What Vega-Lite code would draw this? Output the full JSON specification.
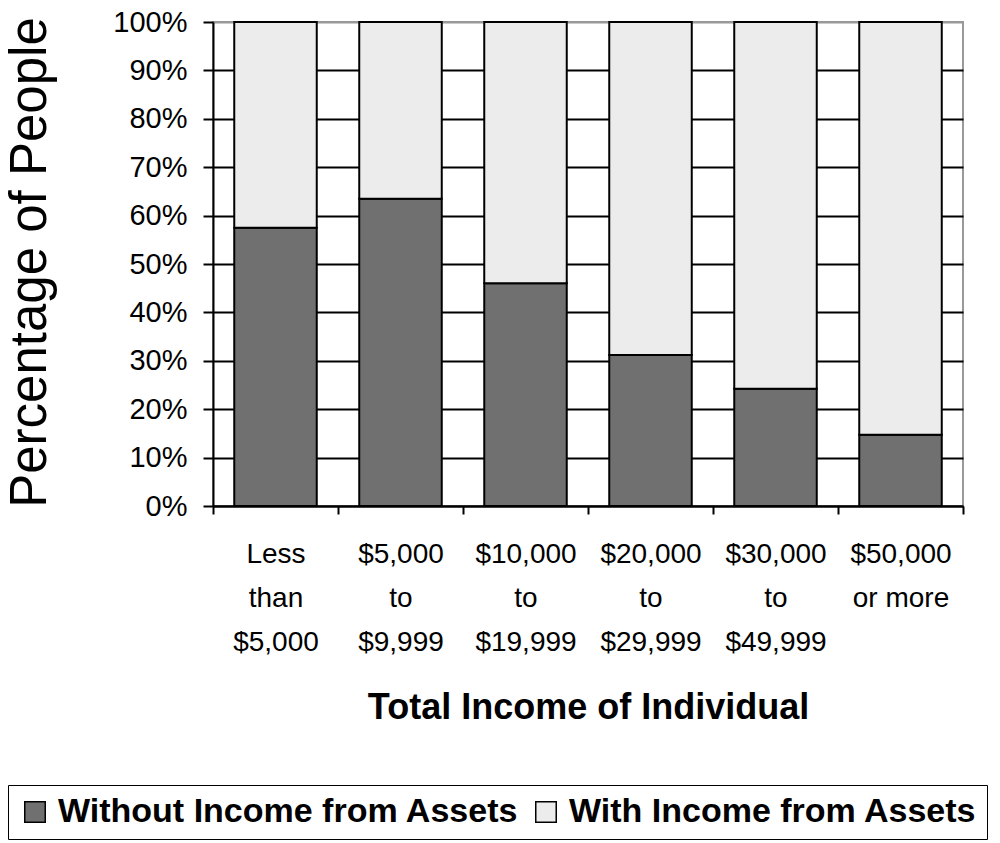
{
  "$schema": "https://vega.github.io/schema/vega-lite/v6.json",
  "width": 750,
  "height": 484,
  "autosize": {"type": "none"},
  "padding": {"left": 213, "top": 22, "right": 37, "bottom": 337},
  "background": "white",
  "config": {"font": "Liberation Sans", "view": {"stroke": "#999", "strokeWidth": 2}},
  "data": {
    "values": [
      {"income": "Less than $5,000", "series": "Without Income from Assets", "share": 0.575},
      {"income": "Less than $5,000", "series": "With Income from Assets", "share": 0.425},
      {"income": "$5,000 to $9,999", "series": "Without Income from Assets", "share": 0.635},
      {"income": "$5,000 to $9,999", "series": "With Income from Assets", "share": 0.365},
      {"income": "$10,000 to $19,999", "series": "Without Income from Assets", "share": 0.46},
      {"income": "$10,000 to $19,999", "series": "With Income from Assets", "share": 0.54},
      {"income": "$20,000 to $29,999", "series": "Without Income from Assets", "share": 0.312},
      {"income": "$20,000 to $29,999", "series": "With Income from Assets", "share": 0.688},
      {"income": "$30,000 to $49,999", "series": "Without Income from Assets", "share": 0.242},
      {"income": "$30,000 to $49,999", "series": "With Income from Assets", "share": 0.758},
      {"income": "$50,000 or more", "series": "Without Income from Assets", "share": 0.147},
      {"income": "$50,000 or more", "series": "With Income from Assets", "share": 0.853}
    ]
  },
  "mark": {"type": "bar", "stroke": "black", "strokeWidth": 2, "opacity": 1, "width": {"band": 0.66}},
  "encoding": {
    "x": {
      "field": "income",
      "type": "nominal",
      "sort": ["Less than $5,000", "$5,000 to $9,999", "$10,000 to $19,999", "$20,000 to $29,999", "$30,000 to $49,999", "$50,000 or more"],
      "scale": {"paddingInner": 0, "paddingOuter": 0},
      "axis": {
        "title": "Total Income of Individual",
        "labelExpr": "datum.value == null ? '' : datum.value == '$50,000 or more' ? ['$50,000', 'or more'] : split(datum.value, ' ')",
        "labelAngle": 0,
        "labelFontSize": 28,
        "labelLineHeight": 44,
        "labelColor": "black",
        "labelPadding": 26,
        "labelBaseline": "top",
        "labelLimit": 0,
        "tickBand": "extent",
        "tickSize": 8,
        "tickColor": "black",
        "tickWidth": 2,
        "domainColor": "black",
        "domainWidth": 2,
        "grid": false,
        "titleFontSize": 36,
        "titleFontWeight": "bold",
        "titleColor": "black",
        "titleBaseline": "alphabetic",
        "titleY": 212
      }
    },
    "y": {
      "field": "share",
      "type": "quantitative",
      "stack": "zero",
      "scale": {"domain": [0, 1]},
      "axis": {
        "title": "Percentage of People",
        "values": [0, 0.1, 0.2, 0.3, 0.4, 0.5, 0.6, 0.7, 0.8, 0.9, 1],
        "format": ".0%",
        "labelFontSize": 29,
        "labelColor": "black",
        "labelPadding": 16,
        "tickSize": 10,
        "tickColor": "black",
        "tickWidth": 2,
        "domainColor": "black",
        "domainWidth": 2,
        "grid": true,
        "gridColor": {"condition": {"test": "datum.value >= 1", "value": "#999"}, "value": "black"},
        "gridWidth": 2,
        "titleFontSize": 51,
        "titleFontWeight": "normal",
        "titleColor": "black",
        "titleAngle": -90,
        "titleAlign": "center",
        "titleBaseline": "alphabetic",
        "titleX": -168,
        "titleY": 240
      }
    },
    "color": {
      "field": "series",
      "type": "nominal",
      "scale": {"domain": ["Without Income from Assets", "With Income from Assets"], "range": ["#707070", "#ececec"]},
      "legend": {
        "orient": "none",
        "legendX": -205,
        "legendY": 763,
        "direction": "horizontal",
        "title": null,
        "labelFontSize": 34,
        "labelFontWeight": "bold",
        "labelColor": "black",
        "labelLimit": 0,
        "labelOffset": 6,
        "symbolType": "square",
        "symbolSize": 420,
        "symbolStrokeColor": "black",
        "symbolStrokeWidth": 1.5,
        "symbolOpacity": 1,
        "fillColor": "white",
        "strokeColor": "black",
        "padding": 10,
        "columnPadding": 10
      }
    },
    "order": {"field": "series", "sort": "descending"}
  }
}
